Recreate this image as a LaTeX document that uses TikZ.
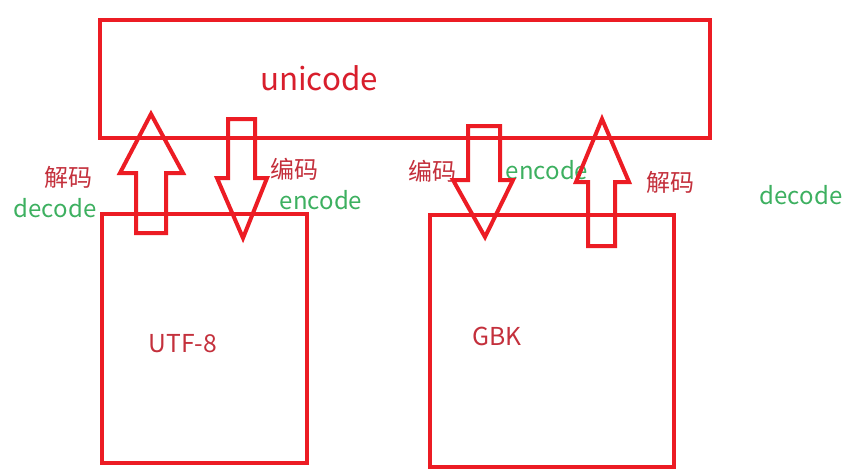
\documentclass[tikz,border=0pt]{standalone}
\usepackage{fontspec}
\setmainfont{Noto Sans CJK SC}
\definecolor{boxred}{HTML}{EC1C24}
\definecolor{txtred}{HTML}{C4303C}
\definecolor{uniRed}{HTML}{D81E2C}
\definecolor{txtgreen}{HTML}{3DB060}
\begin{document}
\begin{tikzpicture}[x=0.75pt,y=-0.75pt,
  box/.style={draw=boxred,line width=3pt,anchor=north west,inner sep=0pt},
  bigarrow/.style={draw=boxred,line width=3pt,line join=miter},
  cn/.style={text=txtred,font=\fontsize{18pt}{20pt}\selectfont,inner sep=0pt},
  en/.style={text=txtgreen,font=\fontsize{18pt}{20pt}\selectfont,inner sep=0pt},
  lbl/.style={text=txtred,font=\fontsize{18.5pt}{20pt}\selectfont,inner sep=0pt}]
\useasboundingbox[fill=white] (0,0) rectangle (853,472);
% boxes
\node[box,minimum width=457.5pt,minimum height=88.5pt] (uni) at (98,18) {};
\node[box,minimum width=153.75pt,minimum height=186.75pt] (utf) at (100,212) {};
\node[box,minimum width=183pt,minimum height=189pt] (gbk) at (428,213) {};
% texts
\node[text=uniRed,font=\fontsize{23.5pt}{26pt}\selectfont,inner sep=0pt] (tuni) at (319,78) {unicode};
\node[lbl] (tutf) at (183,344) {UTF-8};
\node[lbl] (tgbk) at (497,336) {GBK};
\node[cn] (dec1) at (68,177) {解码};
\node[en] (dec1e) at (55,208) {decode};
\node[cn] (enc1) at (294,169) {编码};
\node[en] (enc1e) at (321,200) {encode};
\node[cn] (enc2) at (432,171) {编码};
\node[en] (enc2e) at (547,170) {encode};
\node[cn] (dec2) at (670,182) {解码};
\node[en] (dec2e) at (801,195) {decode};
% block arrows
\draw[bigarrow] (151,114) -- (183,173) -- (166,173) -- (166,233) -- (136,233) -- (136,173) -- (120,173) -- cycle;
\draw[bigarrow] (228,119) -- (255,119) -- (255,178) -- (267,178) -- (243,238) -- (217,178) -- (228,178) -- cycle;
\draw[bigarrow] (468,126) -- (500,126) -- (500,180) -- (513,180) -- (485,237) -- (453,180) -- (468,180) -- cycle;
\draw[bigarrow] (602,119) -- (629,182) -- (615,182) -- (615,246) -- (588,246) -- (588,182) -- (576,182) -- cycle;
\end{tikzpicture}
\end{document}
